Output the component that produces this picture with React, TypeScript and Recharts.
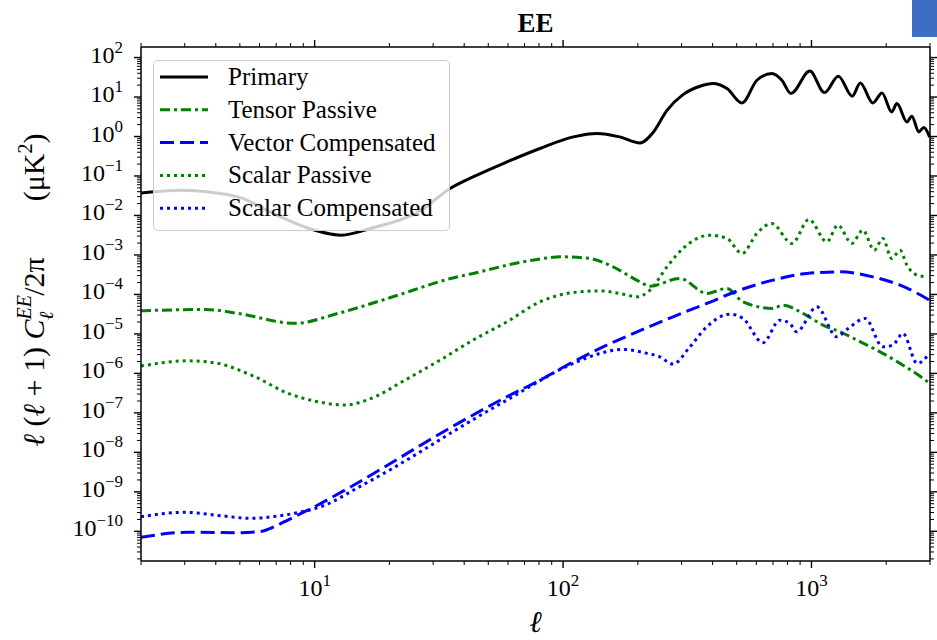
import React from 'react';
import { LineChart, Line, XAxis, YAxis, Legend } from 'recharts';

// multipoles and band powers (uK^2)
const primaryEll = [2, 2.9, 4.9, 6.9, 9.1, 12.8, 16.9, 26.8, 35.1, 43.4, 59.4, 80.7, 110, 137, 169, 204, 230, 262, 304, 356, 401, 457, 525, 603, 692, 760, 827, 985, 1128, 1283, 1459, 1572, 1765, 1923, 2104, 2208, 2423, 2535, 2704, 2833, 2991];
const primaryCl = [0.0371, 0.0438, 0.0296, 0.0108, 0.00514, 0.00317, 0.00476, 0.0136, 0.0483, 0.0948, 0.227, 0.497, 0.977, 1.19, 0.977, 0.689, 1.25, 4.6, 11.5, 18.8, 22.0, 16.4, 7.09, 26.6, 39.3, 26.6, 12.3, 45.5, 13.0, 33.6, 10.5, 22.7, 7.1, 12.7, 4.2, 6.84, 2.34, 3.27, 1.31, 1.69, 0.96];

const tensorEll = [2, 3.62, 4.92, 8.34, 12.4, 19.7, 36.7, 43.4, 68.9, 99.8, 128, 159, 204, 224, 295, 379, 457, 530, 700, 768, 924, 1112, 1302, 1524, 1888, 2274, 2814, 2991];
const tensorCl = [3.85e-5, 4.17e-5, 3.3e-5, 1.85e-5, 3.3e-5, 7.92e-5, 2.69e-4, 3.4e-4, 6.68e-4, 8.95e-4, 8.15e-4, 5.0e-4, 2.08e-4, 1.62e-4, 2.54e-4, 1.06e-4, 1.42e-4, 6.5e-5, 4.42e-5, 5.36e-5, 3.3e-5, 1.67e-5, 1.13e-5, 6.97e-6, 3.52e-6, 1.79e-6, 7.47e-7, 5.58e-7];

const vectorEll = [2, 3.1, 4.9, 6.0, 7.1, 7.8, 10.3, 14.0, 19.2, 26.1, 37.8, 59.4, 80.7, 110, 150, 204, 277, 379, 515, 700, 960, 1302, 1765, 2274, 2991];
const vectorCl = [7.05e-11, 9.44e-11, 9.22e-11, 9.8e-11, 1.44e-10, 1.93e-10, 4.63e-10, 1.35e-9, 4.32e-9, 1.39e-8, 5.42e-8, 2.56e-7, 6.76e-7, 1.97e-6, 5.2e-6, 1.21e-5, 2.71e-5, 5.92e-5, 1.29e-4, 2.3e-4, 3.4e-4, 3.73e-4, 2.79e-4, 1.72e-4, 7.18e-5];

const scalarPassEll = [2, 3.09, 3.97, 5.75, 7.82, 10, 13.2, 16.9, 23.1, 32, 43.4, 59.4, 80.7, 110, 141, 169, 199, 224, 262, 304, 390, 457, 525, 603, 692, 835, 977, 1153, 1277, 1454, 1609, 1790, 1936, 2104, 2274, 2423, 2663, 2930];
const scalarPassCl = [1.53e-6, 2.08e-6, 1.85e-6, 8.2e-7, 3.12e-7, 1.99e-7, 1.58e-7, 2.33e-7, 6.76e-7, 2.17e-6, 6.97e-6, 2.02e-5, 6.5e-5, 1.12e-4, 1.23e-4, 1.06e-4, 8.69e-5, 1.29e-4, 5.0e-4, 1.46e-3, 3.17e-3, 2.62e-3, 1.09e-3, 3.5e-3, 6.27e-3, 1.95e-3, 7.92e-3, 2.15e-3, 5.68e-3, 1.95e-3, 4.25e-3, 1.32e-3, 2.62e-3, 8.15e-4, 1.32e-3, 5.52e-4, 3.08e-4, 2.79e-4];

const scalarCompEll = [2, 3.0, 4.2, 5.55, 7.1, 8.3, 11, 15, 20.4, 27.7, 37.8, 59.4, 110, 141, 174, 218, 245, 277, 324, 379, 470, 530, 638, 745, 819, 870, 1052, 1263, 1406, 1645, 1936, 2125, 2333, 2663, 2991];
const scalarCompCl = [2.34e-10, 3.03e-10, 2.48e-10, 2.13e-10, 2.44e-10, 2.86e-10, 4.6e-10, 1.3e-9, 3.8e-9, 1.2e-8, 4.0e-8, 2.11e-7, 1.79e-6, 3.21e-6, 4.05e-6, 3.21e-6, 2.63e-6, 1.72e-6, 4.71e-6, 1.51e-5, 3.17e-5, 2.47e-5, 5.96e-6, 2.23e-5, 1.84e-5, 1.13e-5, 4.85e-5, 8.45e-6, 1.38e-5, 2.47e-5, 4.71e-6, 5.2e-6, 1.03e-5, 1.79e-6, 3.27e-6];

const xTicks = [2, 3, 4, 5, 6, 7, 8, 9, 10, 20, 30, 40, 50, 60, 70, 80, 90, 100, 200, 300, 400, 500, 600, 700, 800, 900, 1000, 2000, 3000];
const yDecades = [-11, -10, -9, -8, -7, -6, -5, -4, -3, -2, -1, 0, 1, 2];
const yMantissas = [1, 2, 3, 4, 5, 6, 7, 8, 9];

const X_DOMAIN: [number, number] = [2, 3000];
const Y_DOMAIN: [number, number] = [1.77e-11, 185];

const yTicks: number[] = [];
yDecades.forEach((e) => {
  yMantissas.forEach((m) => {
    const v = m * Math.pow(10, e);
    if (v >= Y_DOMAIN[0] && v <= Y_DOMAIN[1]) yTicks.push(v);
  });
});

const FONT = '"Liberation Serif", "DejaVu Serif", serif';

const toPoints = (ell: number[], cl: number[]) => ell.map((l, i) => ({ ell: l, cl: cl[i] }));

const series = [
  { name: 'Primary', data: toPoints(primaryEll, primaryCl), color: '#000000', dash: undefined as string | undefined, width: 3 },
  { name: 'Tensor Passive', data: toPoints(tensorEll, tensorCl), color: '#008000', dash: '10 4 3 4', width: 3 },
  { name: 'Vector Compensated', data: toPoints(vectorEll, vectorCl), color: '#0000ff', dash: '14 6', width: 3 },
  { name: 'Scalar Passive', data: toPoints(scalarPassEll, scalarPassCl), color: '#008000', dash: '3 4', width: 3 },
  { name: 'Scalar Compensated', data: toPoints(scalarCompEll, scalarCompCl), color: '#0000ff', dash: '3 4', width: 3 },
];

const expOf = (v: number) => {
  const lg = Math.log10(v);
  const r = Math.round(lg);
  return { major: Math.abs(lg - r) < 1e-6, exp: r };
};

const supText = (e: number) => (e < 0 ? '\u2212' + Math.abs(e) : String(e));

function BottomTick(props: any) {
  const { x, y, payload } = props;
  const { major, exp } = expOf(payload.value);
  return (
    <g>
      <line x1={x} x2={x} y1={y} y2={y + (major ? 7 : 4)} stroke="#000" strokeWidth={major ? 1.4 : 1} />
      {major && (
        <text x={x} y={y + 35} textAnchor="middle" fontFamily={FONT} fontSize={24} fill="#000">
          10<tspan dy={-10} fontSize={17}>{supText(exp)}</tspan>
        </text>
      )}
    </g>
  );
}

function TopTick(props: any) {
  const { x, y, payload } = props;
  const { major } = expOf(payload.value);
  return <line x1={x} x2={x} y1={y} y2={y - (major ? 7 : 4)} stroke="#000" strokeWidth={major ? 1.4 : 1} />;
}

function LeftTick(props: any) {
  const { x, y, payload } = props;
  const { major, exp } = expOf(payload.value);
  const show = major && exp >= -10 && exp <= 2;
  return (
    <g>
      <line x1={x} x2={x - (major ? 7 : 4)} y1={y} y2={y} stroke="#000" strokeWidth={major ? 1.4 : 1} />
      {show && (
        <text x={x - 18} y={y + 5} textAnchor="end" fontFamily={FONT} fontSize={24} fill="#000">
          10<tspan dy={-10} fontSize={17}>{supText(exp)}</tspan>
        </text>
      )}
    </g>
  );
}

function RightTick(props: any) {
  const { x, y, payload } = props;
  const { major } = expOf(payload.value);
  return <line x1={x} x2={x + (major ? 7 : 4)} y1={y} y2={y} stroke="#000" strokeWidth={major ? 1.4 : 1} />;
}

const XLabel = () => (
  <text x={535.5} y={632} textAnchor="middle" fontFamily={FONT} fontSize={30} fontStyle="italic" fill="#000">
    ℓ
  </text>
);

const TitleLabel = () => (
  <text x={535.5} y={32} textAnchor="middle" fontFamily={FONT} fontSize={27} fontWeight="bold" fill="#000">
    EE
  </text>
);

const YLabel = () => (
  <text transform="translate(44,290) rotate(-90)" textAnchor="middle" fontFamily={FONT} fontSize={30} fill="#000">
    <tspan fontStyle="italic">ℓ</tspan>
    <tspan> (</tspan>
    <tspan fontStyle="italic">ℓ</tspan>
    <tspan> + 1) </tspan>
    <tspan fontStyle="italic">C</tspan>
    <tspan fontStyle="italic" fontSize={20} dy={-13}>EE</tspan>
    <tspan fontStyle="italic" fontSize={20} dx={-25} dy={22}>ℓ</tspan>
    <tspan dx={16} dy={-9}>/2π</tspan>
    <tspan dx={56}>(μK</tspan>
    <tspan fontSize={20} dy={-12}>2</tspan>
    <tspan dy={12}>)</tspan>
  </text>
);

const LegendBox = () => (
  <div
    style={{
      width: 297,
      height: 171,
      boxSizing: 'border-box',
      border: '1.5px solid #cccccc',
      borderRadius: 5,
      background: 'rgba(255,255,255,0.8)',
    }}
  >
    <svg width={295} height={169} style={{ display: 'block' }}>
      {series.map((s, i) => {
        const cy = 16 + i * 32.8;
        return (
          <g key={s.name}>
            <line x1={6} x2={54} y1={cy} y2={cy} stroke={s.color} strokeWidth={s.width} strokeDasharray={s.dash} />
            <text x={74} y={cy + 8} fontFamily={FONT} fontSize={25} fill="#000">
              {s.name}
            </text>
          </g>
        );
      })}
    </svg>
  </div>
);

export default function App() {
  const axisLine = { stroke: '#000', strokeWidth: 1.5 };
  return (
    <div style={{ position: 'absolute', left: 0, top: 0, width: 937, height: 640, background: '#fff' }}>
      <LineChart width={937} height={640} margin={{ top: 0, right: 0, bottom: 0, left: 0 }}>
        <XAxis
          xAxisId="b"
          dataKey="ell"
          type="number"
          scale="log"
          domain={X_DOMAIN}
          allowDataOverflow
          ticks={xTicks}
          interval={0}
          tick={BottomTick}
          tickLine={false}
          tickSize={0}
          tickMargin={0}
          height={79}
          axisLine={axisLine}
          label={XLabel}
        />
        <XAxis
          xAxisId="t"
          orientation="top"
          dataKey="ell"
          type="number"
          scale="log"
          domain={X_DOMAIN}
          allowDataOverflow
          ticks={xTicks}
          interval={0}
          tick={TopTick}
          tickLine={false}
          tickSize={0}
          tickMargin={0}
          height={47}
          axisLine={axisLine}
          label={TitleLabel}
        />
        <YAxis
          yAxisId="l"
          type="number"
          scale="log"
          domain={Y_DOMAIN}
          allowDataOverflow
          ticks={yTicks}
          interval={0}
          tick={LeftTick}
          tickLine={false}
          tickSize={0}
          tickMargin={0}
          width={141}
          axisLine={axisLine}
          label={YLabel}
        />
        <YAxis
          yAxisId="r"
          orientation="right"
          type="number"
          scale="log"
          domain={Y_DOMAIN}
          allowDataOverflow
          ticks={yTicks}
          interval={0}
          tick={RightTick}
          tickLine={false}
          tickSize={0}
          tickMargin={0}
          width={7}
          axisLine={axisLine}
        />
        {series.map((s) => (
          <Line
            key={s.name}
            xAxisId="b"
            yAxisId="l"
            data={s.data}
            dataKey="cl"
            name={s.name}
            type="monotone"
            stroke={s.color}
            strokeWidth={s.width}
            strokeDasharray={s.dash}
            dot={false}
            activeDot={false}
            isAnimationActive={false}
          />
        ))}
        <Legend
          layout="vertical"
          align="center"
          verticalAlign="middle"
          content={LegendBox}
          wrapperStyle={{ left: 153, top: 60, width: 297, height: 171 }}
        />
      </LineChart>
      <div style={{ position: 'absolute', left: 912, top: 0, width: 25, height: 37, background: '#3d6ec4' }} />
    </div>
  );
}
